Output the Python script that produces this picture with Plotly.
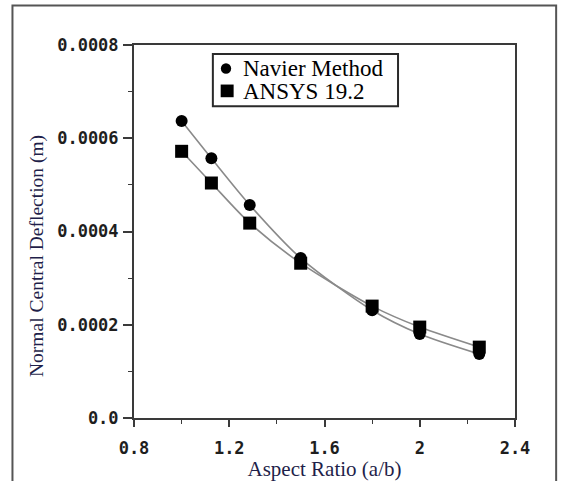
import plotly.graph_objects as go

# Aspect ratios (a/b) and normal central deflection (m)
aspect_ratio = [1.0, 1.125, 1.286, 1.5, 1.8, 2.0, 2.25]
navier = [0.000637, 0.000557, 0.000457, 0.000343, 0.000231, 0.000180, 0.000137]
ansys = [0.000572, 0.000504, 0.000418, 0.000332, 0.000240, 0.000195, 0.000152]

series_names = ["Navier Method", "ANSYS 19.2"]

x_ticks = [0.8, 1.2, 1.6, 2.0, 2.4]
x_ticklabels = ["0.8", "1.2", "1.6", "2", "2.4"]
y_ticks = [0.0, 0.0002, 0.0004, 0.0006, 0.0008]
y_ticklabels = ["0.0", "0.0002", "0.0004", "0.0006", "0.0008"]

line_col = "#8a8a8a"
axis_col = "#3a3a3a"
title_col = "#1f1f4a"
serif = "Liberation Serif"

fig = go.Figure()

fig.add_trace(go.Scatter(
    x=aspect_ratio, y=navier, mode="lines+markers", name=series_names[0],
    showlegend=False,
    line=dict(color=line_col, width=1.6, shape="spline", smoothing=0.8),
    marker=dict(symbol="circle", size=12, color="black"),
))
fig.add_trace(go.Scatter(
    x=aspect_ratio, y=ansys, mode="lines+markers", name=series_names[1],
    showlegend=False,
    line=dict(color=line_col, width=1.6, shape="spline", smoothing=0.8),
    marker=dict(symbol="square", size=13, color="black"),
))

tick_font = dict(family="DejaVu Sans Mono", size=17, color="#1e1e1e", weight="bold")

# Compact boxed key in the upper part of the plot (paper coordinates)
key_box = dict(x0=0.207, x1=0.693, y0=0.836, y1=0.976)
key_rows_y = [0.937, 0.877]
key_text_x = 0.283
key_symbol_x = 0.2415

shapes = [
    # outer frame around the whole figure
    dict(type="rect", xref="paper", yref="paper",
         x0=-0.319, x1=1.108, y0=-0.25, y1=1.106,
         line=dict(color="#555555", width=2), layer="below"),
    # key box
    dict(type="rect", xref="paper", yref="paper", **key_box,
         line=dict(color="#2a2a2a", width=2), fillcolor="white", layer="above"),
    # key symbols
    dict(type="circle", xref="paper", yref="paper",
         x0=key_symbol_x - 0.0135, x1=key_symbol_x + 0.0135,
         y0=key_rows_y[0] - 0.014, y1=key_rows_y[0] + 0.014,
         fillcolor="black", line=dict(width=0), layer="above"),
    dict(type="rect", xref="paper", yref="paper",
         x0=key_symbol_x - 0.014, x1=key_symbol_x + 0.02,
         y0=key_rows_y[1] - 0.017, y1=key_rows_y[1] + 0.017,
         fillcolor="black", line=dict(width=0), layer="above"),
]

annotations = [
    dict(text=name, xref="paper", yref="paper", x=key_text_x, y=yy,
         xanchor="left", yanchor="middle", showarrow=False, height=20,
         valign="middle", borderpad=0,
         font=dict(family=serif, size=23, color="black"))
    for name, yy in zip(series_names, key_rows_y)
]
annotations.append(dict(
    text="Normal Central Deflection (m)", xref="paper", yref="paper",
    x=-0.255, y=0.434, textangle=-90, showarrow=False,
    xanchor="center", yanchor="middle",
    font=dict(family=serif, size=19.5, color=title_col),
))

fig.update_layout(
    width=569, height=481,
    margin=dict(l=134, r=54, t=45, b=63, autoexpand=False),
    paper_bgcolor="white", plot_bgcolor="white",
    showlegend=False,
    xaxis=dict(
        range=[0.8, 2.4], tickvals=x_ticks, ticktext=x_ticklabels,
        automargin=False,
        ticks="outside", ticklen=7, tickwidth=1.5, tickcolor=axis_col,
        ticklabelstandoff=7,
        showline=True, linecolor=axis_col, linewidth=2, mirror=True,
        showgrid=False, zeroline=False, tickfont=tick_font,
        minor=dict(dtick=0.2, tick0=0.8, ticks="outside", ticklen=4,
                   tickwidth=1.2, tickcolor=axis_col),
        title=dict(text="Aspect Ratio (a/b)", standoff=11,
                   font=dict(family=serif, size=21, color=title_col)),
    ),
    yaxis=dict(
        range=[0, 0.0008], tickvals=y_ticks, ticktext=y_ticklabels,
        automargin=False,
        ticks="outside", ticklen=9, tickwidth=1.5, tickcolor=axis_col,
        ticklabelstandoff=1,
        showline=True, linecolor=axis_col, linewidth=2, mirror=True,
        showgrid=False, zeroline=False, tickfont=tick_font,
        minor=dict(dtick=0.0001, tick0=0, ticks="outside", ticklen=4,
                   tickwidth=1.2, tickcolor=axis_col),
    ),
    shapes=shapes,
    annotations=annotations,
)

fig.write_html("out.html")
